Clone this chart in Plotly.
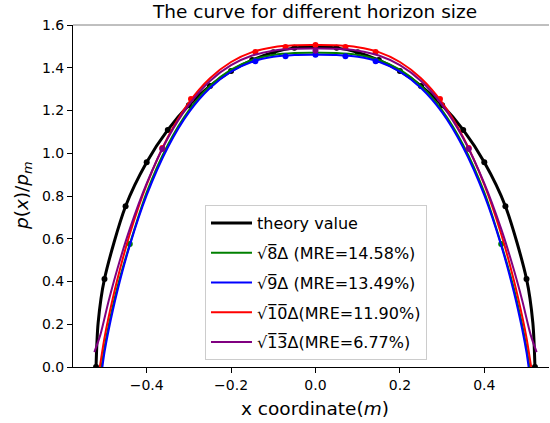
import plotly.graph_objects as go

# ---- theory curve (line + sampled points) ----
theory_x = [-0.52, -0.515, -0.5, -0.45, -0.4, -0.35, -0.3, -0.25, -0.2, -0.15, -0.1, -0.05, 0.0,
            0.05, 0.1, 0.15, 0.2, 0.25, 0.3, 0.35, 0.4, 0.45, 0.5, 0.515, 0.52]
theory_y = [0.0, 0.207, 0.412, 0.752, 0.958, 1.109, 1.225, 1.315, 1.385, 1.436, 1.472, 1.493, 1.5,
            1.493, 1.472, 1.436, 1.385, 1.315, 1.225, 1.109, 0.958, 0.752, 0.412, 0.207, 0.0]
theory_mx = [-0.52, -0.5, -0.45, -0.4, -0.35, -0.3, -0.25, -0.2, -0.15, -0.1, -0.05, 0.0,
             0.05, 0.1, 0.15, 0.2, 0.25, 0.3, 0.35, 0.4, 0.45, 0.5, 0.52]
theory_my = [0.0, 0.412, 0.752, 0.958, 1.109, 1.225, 1.315, 1.385, 1.436, 1.472, 1.493, 1.5,
             1.493, 1.472, 1.436, 1.385, 1.315, 1.225, 1.109, 0.958, 0.752, 0.412, 0.0]

# ---- horizon sqrt(8) delta ----
h8_x = [-0.507, -0.5, -0.49, -0.47, -0.44, -0.4, -0.35, -0.3, -0.25, -0.2, -0.15, -0.1, -0.05, 0.0,
        0.05, 0.1, 0.15, 0.2, 0.25, 0.3, 0.35, 0.4, 0.44, 0.47, 0.49, 0.5, 0.507]
h8_y = [0.0, 0.091, 0.194, 0.368, 0.575, 0.817, 1.039, 1.201, 1.315, 1.391, 1.437, 1.460, 1.469, 1.47,
        1.469, 1.460, 1.437, 1.391, 1.315, 1.201, 1.039, 0.817, 0.575, 0.368, 0.194, 0.091, 0.0]
h8_mx = [-0.44, 0.44]
h8_my = [0.575, 0.575]

# ---- horizon sqrt(9) delta ----
h9_x = [-0.505, -0.5, -0.49, -0.47, -0.44, -0.4, -0.35, -0.3, -0.25, -0.2, -0.15, -0.1, -0.05, 0.0,
        0.05, 0.1, 0.15, 0.2, 0.25, 0.3, 0.35, 0.4, 0.44, 0.47, 0.49, 0.5, 0.505]
h9_y = [0.0, 0.068, 0.174, 0.351, 0.569, 0.804, 1.027, 1.191, 1.305, 1.382, 1.428, 1.451, 1.460, 1.461,
        1.460, 1.451, 1.428, 1.382, 1.305, 1.191, 1.027, 0.804, 0.569, 0.351, 0.174, 0.068, 0.0]
h9_mx = [-0.1425, -0.071, 0.0, 0.071, 0.1425]
h9_my = [1.43, 1.454, 1.461, 1.454, 1.43]

# ---- horizon sqrt(10) delta ----
h10_x = [-0.511, -0.5, -0.49, -0.47, -0.44, -0.4, -0.35, -0.3, -0.25, -0.2, -0.15, -0.1, -0.05, 0.0,
         0.05, 0.1, 0.15, 0.2, 0.25, 0.3, 0.35, 0.4, 0.44, 0.47, 0.49, 0.5, 0.511]
h10_y = [0.0, 0.136, 0.235, 0.406, 0.622, 0.853, 1.075, 1.237, 1.351, 1.427, 1.473, 1.496, 1.505, 1.506,
         1.505, 1.496, 1.473, 1.427, 1.351, 1.237, 1.075, 0.853, 0.622, 0.406, 0.235, 0.136, 0.0]
h10_mx = [-0.363, -0.295, -0.1425, -0.071, 0.0, 0.071, 0.1425, 0.295, 0.363]
h10_my = [1.025, 1.254, 1.474, 1.497, 1.506, 1.497, 1.474, 1.254, 1.025]

# ---- horizon sqrt(13) delta ----
h13_x = [-0.524, -0.51, -0.49, -0.47, -0.44, -0.4, -0.35, -0.3, -0.25, -0.2, -0.15, -0.1, -0.05, 0.0,
         0.05, 0.1, 0.15, 0.2, 0.25, 0.3, 0.35, 0.4, 0.44, 0.47, 0.49, 0.51, 0.524]
h13_y = [0.07, 0.149, 0.310, 0.455, 0.646, 0.859, 1.070, 1.226, 1.338, 1.412, 1.457, 1.480, 1.489, 1.49,
         1.489, 1.480, 1.457, 1.412, 1.338, 1.226, 1.070, 0.859, 0.646, 0.455, 0.310, 0.149, 0.07]
h13_mx = [-0.363, 0.0, 0.363]
h13_my = [1.02, 1.48, 1.02]

x_ticks = [-0.4, -0.2, 0.0, 0.2, 0.4]
x_tick_text = ["\u22120.4", "\u22120.2", "0.0", "0.2", "0.4"]
y_ticks = [0.0, 0.2, 0.4, 0.6, 0.8, 1.0, 1.2, 1.4, 1.6]
y_tick_text = ["0.0", "0.2", "0.4", "0.6", "0.8", "1.0", "1.2", "1.4", "1.6"]

FONT = "DejaVu Sans"


def sqrt_label(n, tail):
    # radical sign with a bar over the radicand (combining overline on each digit)
    return "\u221a" + "".join(ch + "\u0305" for ch in n) + "\u0394" + tail


series = [
    (h8_x, h8_y, h8_mx, h8_my, "green", sqrt_label("8", " (MRE=14.58%)")),
    (h9_x, h9_y, h9_mx, h9_my, "blue", sqrt_label("9", " (MRE=13.49%)")),
    (h10_x, h10_y, h10_mx, h10_my, "red", sqrt_label("10", "(MRE=11.90%)")),
    (h13_x, h13_y, h13_mx, h13_my, "purple", sqrt_label("13", "(MRE=6.77%)")),
]

fig = go.Figure()
fig.add_trace(go.Scatter(x=theory_x, y=theory_y, mode="lines", name="theory value",
                         line=dict(color="black", width=3, shape="spline", smoothing=0.8),
                         legendgroup="t"))
fig.add_trace(go.Scatter(x=theory_mx, y=theory_my, mode="markers", showlegend=False,
                         marker=dict(color="black", size=6), legendgroup="t"))
for i, (lx, ly, mx, my, col, lab) in enumerate(series):
    fig.add_trace(go.Scatter(x=lx, y=ly, mode="lines", name=lab,
                             line=dict(color=col, width=2, shape="spline", smoothing=0.8),
                             legendgroup="g%d" % i))
    fig.add_trace(go.Scatter(x=mx, y=my, mode="markers", showlegend=False,
                             marker=dict(color=col, size=6), legendgroup="g%d" % i))

# top frame line
fig.add_shape(type="line", xref="paper", yref="paper", x0=0, x1=1, y0=1, y1=1,
              line=dict(color="#808080", width=1))

fig.add_annotation(text="The curve for different horizon size", xref="paper", yref="paper",
                   x=0.5084, y=1, xanchor="center", yanchor="bottom", yshift=1,
                   showarrow=False, font=dict(family=FONT, size=18.5, color="black"))
fig.add_annotation(text="x coordinate(<i>m</i>)", xref="paper", yref="paper",
                   x=0.5084, y=-0.1228, xanchor="center", yanchor="middle",
                   showarrow=False, font=dict(family=FONT, size=18.5, color="black"))
fig.add_annotation(text="<i>p</i>(<i>x</i>)/<i>p</i><sub><i>m</i></sub>", xref="paper", yref="paper",
                   x=-0.105, y=0.5, xanchor="center", yanchor="middle", textangle=-90,
                   showarrow=False, font=dict(family=FONT, size=18.5, color="black"))

fig.update_layout(
    width=550, height=423,
    margin=dict(l=73, r=1, t=25, b=56),
    paper_bgcolor="white", plot_bgcolor="white",
    font=dict(family=FONT, size=14, color="black"),
    showlegend=True,
    legend=dict(x=0.2773, y=0.4737, xanchor="left", yanchor="top",
                bgcolor="rgba(255,255,255,0.8)", bordercolor="#cccccc", borderwidth=1,
                font=dict(family=FONT, size=16, color="black"),
                traceorder="grouped", tracegroupgap=6, itemwidth=41),
    xaxis=dict(range=[-0.5746, 0.5533], tickvals=x_ticks, ticktext=x_tick_text,
               showgrid=False, zeroline=False, showline=True, linecolor="black", linewidth=1,
               ticks="outside", ticklen=5, tickcolor="black", automargin=False,
               tickfont=dict(family=FONT, size=14, color="black")),
    yaxis=dict(range=[0, 1.6], tickvals=y_ticks, ticktext=y_tick_text,
               showgrid=False, zeroline=False, showline=True, linecolor="black", linewidth=1,
               ticks="outside", ticklen=5, tickcolor="black", automargin=False,
               tickfont=dict(family=FONT, size=14, color="black")),
)

fig.write_html("out.html")
